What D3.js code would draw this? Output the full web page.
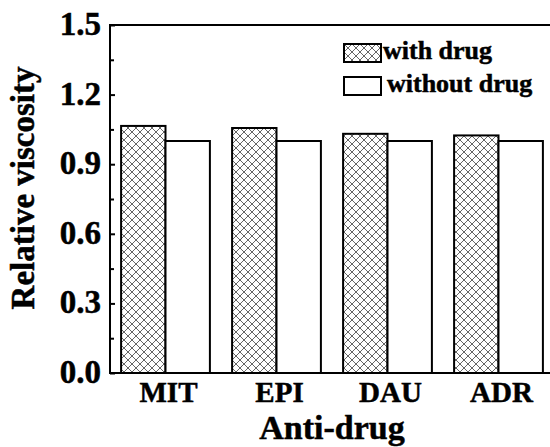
<!DOCTYPE html>
<html>
<head>
<meta charset="utf-8">
<script src="https://cdn.jsdelivr.net/npm/d3@7"></script>
<style>
  html, body { margin: 0; padding: 0; background: #fff; }
  svg { display: block; }
  text { font-family: "Liberation Serif", "Times New Roman", serif; font-weight: bold; fill: #000;
         stroke: #000; stroke-width: 0.5px; }
</style>
</head>
<body>
<svg id="chart" width="550" height="447"></svg>
<script>
// Relative viscosity of DNA solutions with and without each anti-cancer drug
const categories = ["MIT", "EPI", "DAU", "ADR"];
const seriesNames = ["with drug", "without drug"];
const withDrug = [1.065, 1.056, 1.031, 1.024];
const withoutDrug = [1.0, 1.0, 1.0, 1.0];
const yMajorTicks = [0.0, 0.3, 0.6, 0.9, 1.2, 1.5];
const yMinorTicks = [0.15, 0.45, 0.75, 1.05, 1.35];

const svg = d3.select("#chart");
const margin = { left: 110, top: 25, right: -4, bottom: 74 };
const W = 550, H = 447;
const x0 = margin.left, x1 = W - margin.right;
const yTop = margin.top, yBot = H - margin.bottom;

// Cross-hatch fill
const defs = svg.append("defs");
const pat = defs.append("pattern")
  .attr("id", "xhatch")
  .attr("patternUnits", "userSpaceOnUse")
  .attr("width", 8).attr("height", 8);
pat.append("rect").attr("width", 8).attr("height", 8).attr("fill", "#fff");
pat.append("path")
  .attr("d", "M0,0 L8,8 M8,0 L0,8 M-1,7 L1,9 M7,-1 L9,1 M-1,1 L1,-1 M7,9 L9,7")
  .attr("stroke", "#555").attr("stroke-width", 0.9).attr("fill", "none");

const x = d3.scaleBand().domain(categories).range([x0, x1])
  .paddingInner(0.2).paddingOuter(0.1);
const xs = d3.scaleBand().domain(seriesNames).range([0, x.bandwidth()]);
const y = d3.scaleLinear().domain([0, 1.5]).range([yBot, yTop]);

const rows = categories.map((c, i) => ({ cat: c, values: [withDrug[i], withoutDrug[i]] }));
const fills = ["url(#xhatch)", "#fff"];

// Bars
const g = svg.append("g");
rows.forEach(r => {
  r.values.forEach((v, j) => {
    g.append("rect")
      .attr("x", x(r.cat) + xs(seriesNames[j]))
      .attr("y", y(v))
      .attr("width", xs.bandwidth())
      .attr("height", y(0) - y(v))
      .attr("fill", fills[j])
      .attr("stroke", "#000")
      .attr("stroke-width", 2);
  });
});

// Frame
svg.append("rect")
  .attr("x", x0).attr("y", yTop)
  .attr("width", x1 - x0).attr("height", yBot - yTop)
  .attr("fill", "none").attr("stroke", "#000").attr("stroke-width", 2);

// Y axis with inward ticks
const yAxis = d3.axisRight(y).tickValues(yMajorTicks).tickSize(5).tickFormat("");
const ya = svg.append("g").attr("transform", `translate(${x0},0)`).call(yAxis);
ya.select(".domain").remove();
ya.selectAll("line").attr("stroke", "#000").attr("stroke-width", 2);
const yAxisMinor = d3.axisRight(y).tickValues(yMinorTicks).tickSize(4).tickFormat("");
const ym = svg.append("g").attr("transform", `translate(${x0},0)`).call(yAxisMinor);
ym.select(".domain").remove();
ym.selectAll("line").attr("stroke", "#000").attr("stroke-width", 2);

// Y tick labels
svg.append("g").selectAll("text").data(yMajorTicks).join("text")
  .attr("x", x0 - 9)
  .attr("y", d => y(d))
  .attr("dy", "0.3em")
  .attr("text-anchor", "end")
  .attr("font-size", 33)
  .text(d => d3.format(".1f")(d));

// X tick labels
svg.append("g").selectAll("text").data(categories).join("text")
  .attr("x", d => x(d) + x.bandwidth() / 2 + 3)
  .attr("y", 402)
  .attr("text-anchor", "middle")
  .attr("font-size", 29)
  .text(d => d);

// Axis titles
svg.append("text")
  .attr("x", 332).attr("y", 439)
  .attr("text-anchor", "middle")
  .attr("font-size", 34)
  .text("Anti-drug");

svg.append("text")
  .attr("transform", "translate(34,188) rotate(-90)")
  .attr("text-anchor", "middle")
  .attr("font-size", 33)
  .text("Relative viscosity");

// Legend
const legend = svg.append("g").attr("transform", "translate(344,44)");
seriesNames.forEach((name, i) => {
  const row = legend.append("g").attr("transform", `translate(0,${i * 33})`);
  row.append("rect")
    .attr("width", 37).attr("height", 18)
    .attr("fill", fills[i]).attr("stroke", "#000").attr("stroke-width", 2);
  row.append("text")
    .attr("x", 39 + i * 4).attr("y", 15)
    .attr("font-size", 26)
    .text(name);
});
</script>
</body>
</html>
